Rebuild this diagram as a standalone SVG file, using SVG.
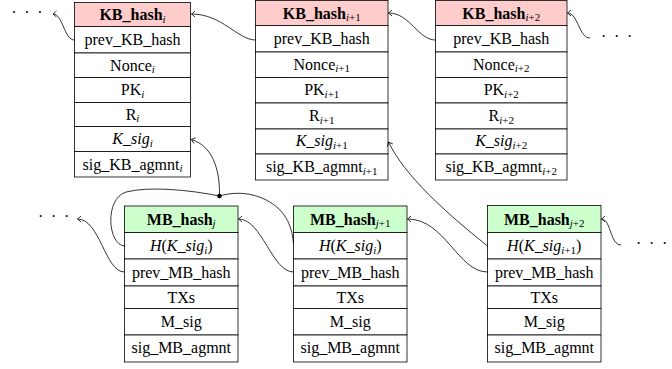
<svg xmlns="http://www.w3.org/2000/svg" width="672" height="369" viewBox="0 0 672 369" font-family="'Liberation Serif', serif">
<style>
text{font-family:"Liberation Serif",serif}
.t{font-size:16px;text-anchor:middle;fill:#000}
.b{font-weight:bold}
.it{font-style:italic}
.s{font-size:11px;font-style:italic}
.su{font-size:11px;font-style:normal}
.d{font-size:16px;letter-spacing:1.85px;fill:#000}
.r{fill:#fff;stroke:#000;stroke-width:0.8}
.kh{fill:#ffcccc;stroke:#000;stroke-width:0.8}
.mh{fill:#ccffcc;stroke:#000;stroke-width:0.8}
.c{fill:none;stroke:#000;stroke-width:0.8}
</style>
<defs>
<marker id="ah" viewBox="-5 -5 6 10" markerWidth="6" markerHeight="10" refX="0" refY="0" orient="auto" markerUnits="userSpaceOnUse">
<path d="M-3.5,-3 Q-1,-0.8 0,0 Q-1,0.8 -3.5,3" fill="none" stroke="#000" stroke-width="0.8"/>
</marker>
</defs>

<g id="KB_i">
<rect class="kh" x="74.5" y="2.5" width="116" height="24"/>
<rect class="r" x="74.5" y="26.5" width="116" height="26.5"/>
<rect class="r" x="74.5" y="53" width="116" height="24.5"/>
<rect class="r" x="74.5" y="77.5" width="116" height="25"/>
<rect class="r" x="74.5" y="102.5" width="116" height="24"/>
<rect class="r" x="74.5" y="126.5" width="116" height="25"/>
<rect class="r" x="74.5" y="151.5" width="116" height="25.5"/>
<text class="t b" x="132.5" y="20">KB_hash<tspan class="s" dy="2.5" font-weight="normal">i</tspan></text>
<text class="t" x="132.5" y="45">prev_KB_hash</text>
<text class="t" x="132.5" y="70.5">Nonce<tspan class="s" dy="2.5">i</tspan></text>
<text class="t" x="132.5" y="95">PK<tspan class="s" dy="2.5">i</tspan></text>
<text class="t" x="132.5" y="119.5">R<tspan class="s" dy="2.5">i</tspan></text>
<text class="t" x="132.5" y="144"><tspan class="it">K</tspan>_<tspan class="it">sig</tspan><tspan class="s" dy="2.5">i</tspan></text>
<text class="t" x="132.5" y="169.5">sig_KB_agmnt<tspan class="s" dy="2.5">i</tspan></text>
</g>

<g id="KB_i1">
<rect class="kh" x="255.5" y="0.5" width="132.5" height="25"/>
<rect class="r" x="255.5" y="25.5" width="132.5" height="26.5"/>
<rect class="r" x="255.5" y="52" width="132.5" height="25.5"/>
<rect class="r" x="255.5" y="77.5" width="132.5" height="25.5"/>
<rect class="r" x="255.5" y="103" width="132.5" height="26"/>
<rect class="r" x="255.5" y="129" width="132.5" height="25"/>
<rect class="r" x="255.5" y="154" width="132.5" height="26"/>
<text class="t b" x="321.75" y="18.5">KB_hash<tspan class="s" dy="2.5" font-weight="normal">i</tspan><tspan class="su" font-weight="normal">+1</tspan></text>
<text class="t" x="321.75" y="44">prev_KB_hash</text>
<text class="t" x="321.75" y="69.5">Nonce<tspan class="s" dy="2.5">i</tspan><tspan class="su">+1</tspan></text>
<text class="t" x="321.75" y="95">PK<tspan class="s" dy="2.5">i</tspan><tspan class="su">+1</tspan></text>
<text class="t" x="321.75" y="121">R<tspan class="s" dy="2.5">i</tspan><tspan class="su">+1</tspan></text>
<text class="t" x="321.75" y="146"><tspan class="it">K</tspan>_<tspan class="it">sig</tspan><tspan class="s" dy="2.5">i</tspan><tspan class="su">+1</tspan></text>
<text class="t" x="321.75" y="172">sig_KB_agmnt<tspan class="s" dy="2.5">i</tspan><tspan class="su">+1</tspan></text>
</g>

<g id="KB_i2">
<rect class="kh" x="435.5" y="0.5" width="131.5" height="25"/>
<rect class="r" x="435.5" y="25.5" width="131.5" height="26.5"/>
<rect class="r" x="435.5" y="52" width="131.5" height="25.5"/>
<rect class="r" x="435.5" y="77.5" width="131.5" height="25.5"/>
<rect class="r" x="435.5" y="103" width="131.5" height="26"/>
<rect class="r" x="435.5" y="129" width="131.5" height="25"/>
<rect class="r" x="435.5" y="154" width="131.5" height="26"/>
<text class="t b" x="501.25" y="18.5">KB_hash<tspan class="s" dy="2.5" font-weight="normal">i</tspan><tspan class="su" font-weight="normal">+2</tspan></text>
<text class="t" x="501.25" y="44">prev_KB_hash</text>
<text class="t" x="501.25" y="69.5">Nonce<tspan class="s" dy="2.5">i</tspan><tspan class="su">+2</tspan></text>
<text class="t" x="501.25" y="95">PK<tspan class="s" dy="2.5">i</tspan><tspan class="su">+2</tspan></text>
<text class="t" x="501.25" y="121">R<tspan class="s" dy="2.5">i</tspan><tspan class="su">+2</tspan></text>
<text class="t" x="501.25" y="146"><tspan class="it">K</tspan>_<tspan class="it">sig</tspan><tspan class="s" dy="2.5">i</tspan><tspan class="su">+2</tspan></text>
<text class="t" x="501.25" y="172">sig_KB_agmnt<tspan class="s" dy="2.5">i</tspan><tspan class="su">+2</tspan></text>
</g>

<g id="MB_j">
<rect class="mh" x="124.5" y="206" width="113.5" height="26.5"/>
<rect class="r" x="124.5" y="232.5" width="113.5" height="26.5"/>
<rect class="r" x="124.5" y="259" width="113.5" height="27"/>
<rect class="r" x="124.5" y="286" width="113.5" height="22.5"/>
<rect class="r" x="124.5" y="308.5" width="113.5" height="26.5"/>
<rect class="r" x="124.5" y="335" width="113.5" height="27"/>
<text class="t b" x="181.25" y="224.5">MB_hash<tspan class="s" dy="2.5" font-weight="normal">j</tspan></text>
<text class="t" x="181.25" y="251"><tspan class="it">H</tspan>(<tspan class="it">K</tspan>_<tspan class="it">sig</tspan><tspan class="s" dy="2.5">i</tspan><tspan dy="-2.5">)</tspan></text>
<text class="t" x="181.25" y="277.5">prev_MB_hash</text>
<text class="t" x="181.25" y="302.5">TXs</text>
<text class="t" x="181.25" y="326.5">M_sig</text>
<text class="t" x="181.25" y="353">sig_MB_agmnt</text>
</g>

<g id="MB_j1">
<rect class="mh" x="293.5" y="206" width="113.5" height="26.5"/>
<rect class="r" x="293.5" y="232.5" width="113.5" height="26.5"/>
<rect class="r" x="293.5" y="259" width="113.5" height="27"/>
<rect class="r" x="293.5" y="286" width="113.5" height="22.5"/>
<rect class="r" x="293.5" y="308.5" width="113.5" height="26.5"/>
<rect class="r" x="293.5" y="335" width="113.5" height="27"/>
<text class="t b" x="350.25" y="224.5">MB_hash<tspan class="s" dy="2.5" font-weight="normal">j</tspan><tspan class="su" font-weight="normal">+1</tspan></text>
<text class="t" x="350.25" y="251"><tspan class="it">H</tspan>(<tspan class="it">K</tspan>_<tspan class="it">sig</tspan><tspan class="s" dy="2.5">i</tspan><tspan dy="-2.5">)</tspan></text>
<text class="t" x="350.25" y="277.5">prev_MB_hash</text>
<text class="t" x="350.25" y="302.5">TXs</text>
<text class="t" x="350.25" y="326.5">M_sig</text>
<text class="t" x="350.25" y="353">sig_MB_agmnt</text>
</g>

<g id="MB_j2">
<rect class="mh" x="487.5" y="205.5" width="113.5" height="27"/>
<rect class="r" x="487.5" y="232.5" width="113.5" height="26.5"/>
<rect class="r" x="487.5" y="259" width="113.5" height="27"/>
<rect class="r" x="487.5" y="286" width="113.5" height="22.5"/>
<rect class="r" x="487.5" y="308.5" width="113.5" height="26.5"/>
<rect class="r" x="487.5" y="335" width="113.5" height="27"/>
<text class="t b" x="544.25" y="224.5">MB_hash<tspan class="s" dy="2.5" font-weight="normal">j</tspan><tspan class="su" font-weight="normal">+2</tspan></text>
<text class="t" x="544.25" y="251"><tspan class="it">H</tspan>(<tspan class="it">K</tspan>_<tspan class="it">sig</tspan><tspan class="s" dy="2.5">i</tspan><tspan class="su">+1</tspan><tspan dy="-2.5">)</tspan></text>
<text class="t" x="544.25" y="277.5">prev_MB_hash</text>
<text class="t" x="544.25" y="302.5">TXs</text>
<text class="t" x="544.25" y="326.5">M_sig</text>
<text class="t" x="544.25" y="353">sig_MB_agmnt</text>
</g>

<g id="dots">
<text class="d" x="11.3" y="18">· · ·</text>
<text class="d" x="601" y="42">· · ·</text>
<text class="d" x="38" y="222">· · ·</text>
<text class="d" x="636" y="249">· · ·</text>
</g>

<g id="connectors">
<path class="c" marker-end="url(#ah)" d="M74.5,40 C64,40 63,14 53,14"/>
<path class="c" marker-end="url(#ah)" d="M255.5,40 C238,40 222,14 191.5,14"/>
<path class="c" marker-end="url(#ah)" d="M435.5,40 C418,40 410,13 388.5,13"/>
<path class="c" marker-end="url(#ah)" d="M590,38 C579,38 578,13 567.5,13"/>
<path class="c" marker-end="url(#ah)" d="M219.5,196 C220,168 212,146 191.5,139.5"/>
<path class="c" d="M219.5,196 C190,190 150,186 126,192 C104,199 108,245 124.5,246"/>
<path class="c" d="M219.5,196 C230,193 245,191 262,198 C285,208 292,225 293.5,244"/>
<circle cx="219.5" cy="196" r="2.3" fill="#000"/>
<path class="c" marker-end="url(#ah)" d="M124.5,272 C105,272 100,219 77.5,219"/>
<path class="c" marker-end="url(#ah)" d="M293.5,272 C272,272 262,219 238.5,219"/>
<path class="c" marker-end="url(#ah)" d="M487.5,246 C445,212 405,176 388.5,142"/>
<path class="c" marker-end="url(#ah)" d="M487.5,272 C458,272 445,219 407.5,219"/>
<path class="c" marker-end="url(#ah)" d="M621,245 C610,245 611,219 601.5,219"/>
</g>
</svg>
